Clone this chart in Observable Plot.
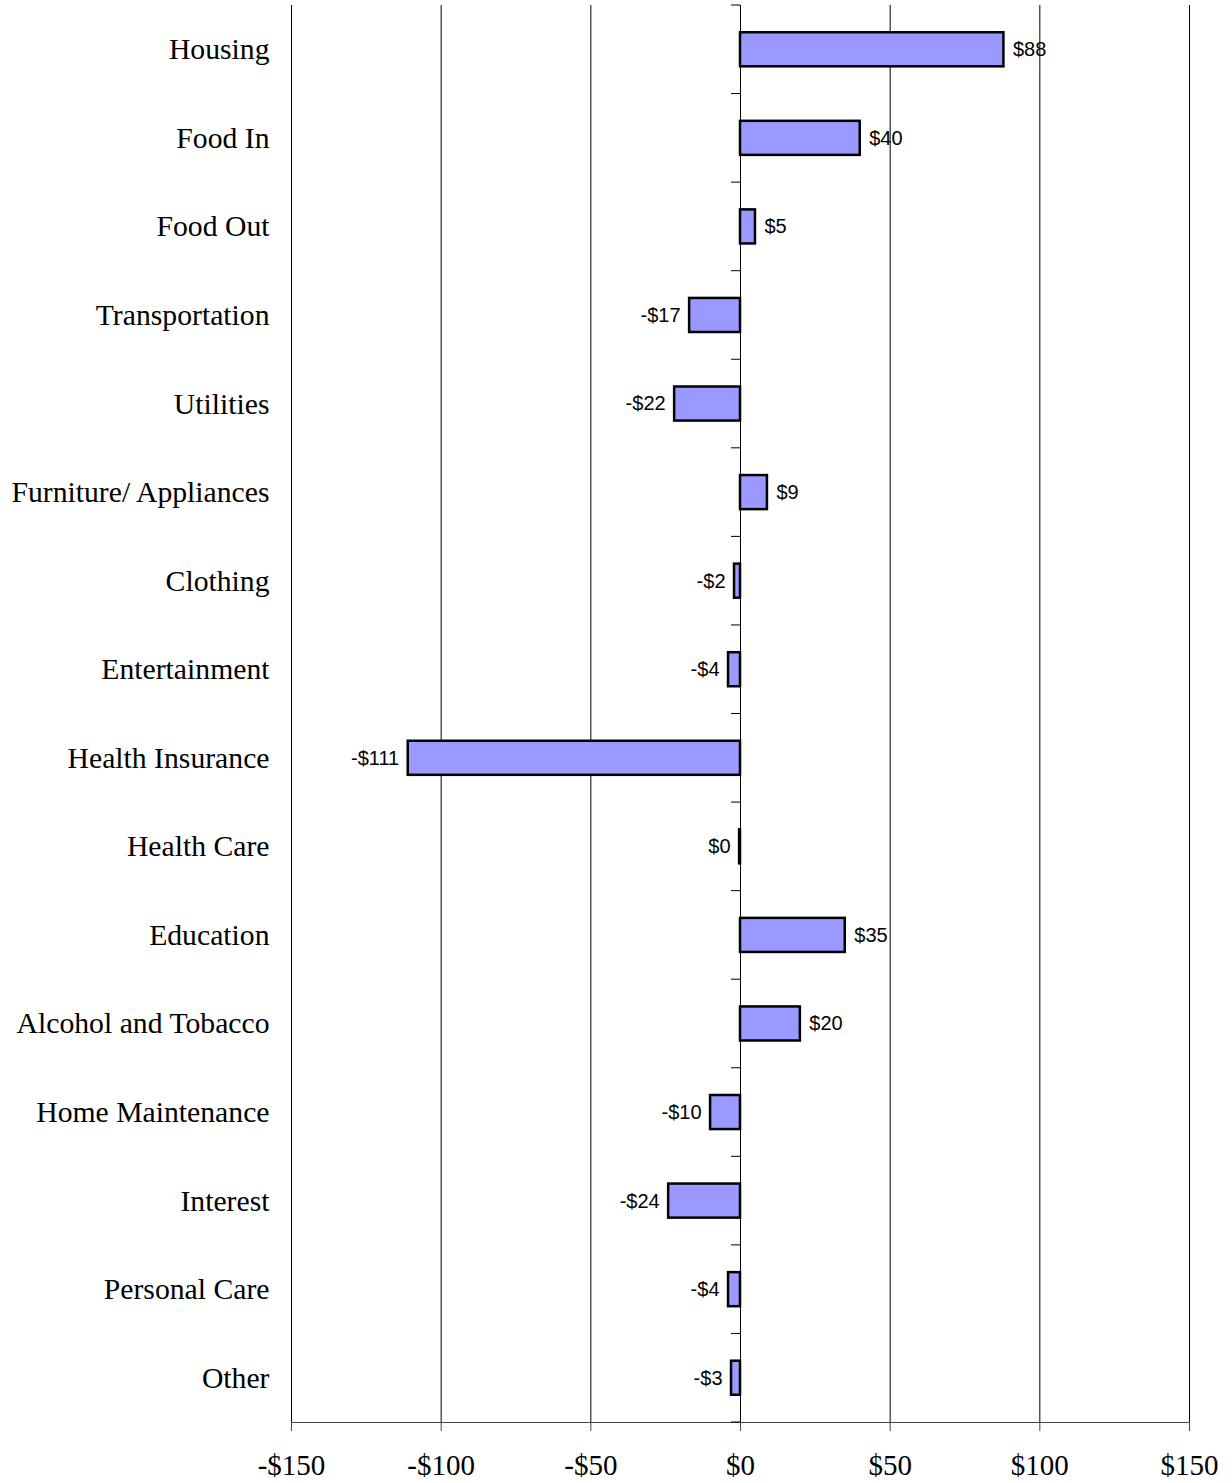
<!DOCTYPE html>
<html><head><meta charset="utf-8">
<script src="https://cdn.jsdelivr.net/npm/d3@7"></script>
<script src="https://cdn.jsdelivr.net/npm/@observablehq/plot@0.6"></script>
<style>body{margin:0;background:#fff}</style>
</head><body><div id="chart"></div>
<script>
const categories = ["Housing","Food In","Food Out","Transportation","Utilities","Furniture/ Appliances","Clothing","Entertainment","Health Insurance","Health Care","Education","Alcohol and Tobacco","Home Maintenance","Interest","Personal Care","Other"];
const values = [88, 40, 5, -17, -22, 9, -2, -4, -111, -0.3, 35, 20, -10, -24, -4, -3];
const xTicks = [-150, -100, -50, 0, 50, 100, 150];

const data = categories.map((c, i) => ({category: c, value: values[i]}));
const money = v => { const r = Math.round(v); return r < 0 ? "-$" + Math.abs(r) : "$" + Math.abs(r); };
const serif = "'Liberation Serif', 'Times New Roman', serif";
const sans = "'Liberation Sans', Arial, sans-serif";

const chart = Plot.plot({
  width: 1232, height: 1483,
  marginLeft: 291, marginRight: 43, marginTop: 5, marginBottom: 61,
  style: {background: "#fff", color: "black"},
  x: {domain: [-150, 150]},
  y: {domain: categories, padding: 0, round: false},
  marks: [
    Plot.ruleX(xTicks, {stroke: "black", strokeWidth: 1}),
    (index, scales, vals, dims) => {
      const g = d3.create("svg:g").attr("stroke", "black").attr("stroke-width", 1);
      const {x, y} = scales;
      const bottom = dims.height - dims.marginBottom;
      g.append("line").attr("x1", x(xTicks[0])).attr("x2", x(xTicks[xTicks.length - 1]))
        .attr("y1", bottom + 0.5).attr("y2", bottom + 0.5).attr("stroke", "#444");
      const edges = categories.map(c => y(c)).concat([y(categories[categories.length - 1]) + y.bandwidth()]);
      for (const e of edges) {
        g.append("line").attr("x1", x(0) - 9).attr("x2", x(0)).attr("y1", e).attr("y2", e);
      }
      return g.node();
    },
    Plot.barX(data, {x: "value", y: "category", fill: "#9999ff", stroke: "black", strokeWidth: 2.5, insetTop: 27.25, insetBottom: 27.25}),
    Plot.text(data.filter(d => d.value > 0), {x: "value", y: "category", text: d => money(d.value), textAnchor: "start", dx: 9, fontSize: 20, fontFamily: sans, fill: "black"}),
    Plot.text(data.filter(d => d.value <= 0), {x: "value", y: "category", text: d => money(d.value), textAnchor: "end", dx: -9, fontSize: 20, fontFamily: sans, fill: "black"}),
    Plot.axisX(xTicks, {tickFormat: money, tickSize: 9, tickPadding: 23, fontSize: 29, fontFamily: serif, label: null, stroke: "#444"}),
    Plot.axisY({tickSize: 0, tickPadding: 22, fontSize: 29.7, fontFamily: serif, label: null})
  ]
});
document.getElementById("chart").appendChild(chart);
</script>
</body></html>
